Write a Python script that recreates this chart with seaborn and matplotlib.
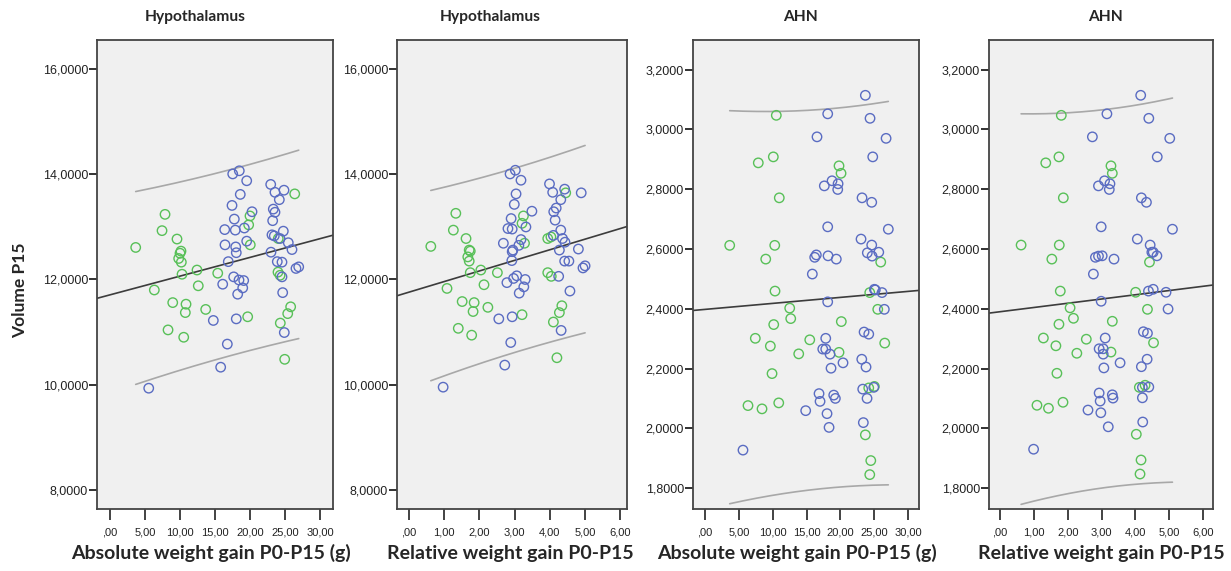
import numpy as np
import matplotlib
matplotlib.use('Agg')
import matplotlib.pyplot as plt
import seaborn as sns
from matplotlib import font_manager
from matplotlib.ticker import FuncFormatter

# ---------------- data ----------------
# Hypothalamus vs absolute weight gain
hyp_abs_green_x = [3.67, 7.86, 7.43, 9.57, 10.14, 10.0, 9.81, 10.19, 10.29, 12.43, 15.39, 20.0, 19.81, 20.04, 26.39, 24.04,
                   24.0, 24.3, 6.33, 8.96, 10.86, 10.76, 12.61, 13.67, 8.29, 10.53, 19.67, 25.81, 25.39, 24.33, 24.96]
hyp_abs_green_y = [12.61, 13.24, 12.93, 12.77, 12.54, 12.50, 12.40, 12.33, 12.10, 12.18, 12.12, 13.21, 13.04, 12.66, 13.63, 12.78,
                   12.14, 12.08, 11.80, 11.56, 11.53, 11.37, 11.88, 11.43, 11.04, 10.90, 11.29, 11.48, 11.35, 11.17, 10.48]
hyp_abs_blue_x = [17.53, 18.47, 19.53, 18.61, 17.43, 20.29, 17.76, 16.39, 17.9, 19.19, 19.53, 16.43, 17.96, 18.04, 16.9, 22.96,
                  23.57, 24.86, 24.19, 23.33, 23.57, 23.24, 24.76, 23.14, 23.47, 24.29, 25.47, 26.0, 23.0, 23.9, 24.57, 26.57,
                  26.96, 17.67, 18.43, 19.1, 16.1, 18.96, 18.24, 14.76, 18.04, 24.57, 24.67, 24.9, 16.76, 15.81, 5.53]
hyp_abs_blue_y = [14.01, 14.07, 13.88, 13.62, 13.41, 13.29, 13.15, 12.95, 12.94, 12.98, 12.73, 12.66, 12.62, 12.51, 12.34, 13.81,
                  13.66, 13.70, 13.52, 13.34, 13.28, 13.12, 12.92, 12.85, 12.83, 12.78, 12.70, 12.57, 12.52, 12.34, 12.33, 12.21,
                  12.24, 12.05, 11.99, 11.98, 11.91, 11.84, 11.72, 11.22, 11.25, 12.05, 11.75, 10.99, 10.77, 10.33, 9.93]

# Hypothalamus vs relative weight gain
hyp_rel_green_x = [0.62, 1.33, 1.26, 1.62, 1.71, 1.74, 1.67, 1.71, 1.74, 2.04, 2.51, 3.25, 3.21, 3.28, 3.94, 4.03,
                   4.45, 3.94, 4.04, 1.08, 1.51, 1.85, 1.82, 2.13, 2.24, 1.40, 1.78, 3.21, 4.34, 4.27, 4.10, 4.20]
hyp_rel_green_y = [12.63, 13.26, 12.94, 12.78, 12.56, 12.54, 12.43, 12.35, 12.13, 12.18, 12.13, 13.21, 13.07, 12.69, 12.78, 12.81,
                   13.65, 12.13, 12.06, 11.83, 11.58, 11.56, 11.39, 11.90, 11.47, 11.07, 10.94, 11.33, 11.50, 11.37, 11.19, 10.51]
hyp_rel_blue_x = [2.87, 3.02, 3.18, 3.04, 2.99, 3.49, 2.90, 2.81, 2.93, 3.32, 3.18, 2.68, 2.95, 2.93, 3.12, 2.92,
                  3.99, 4.08, 4.42, 4.89, 4.31, 4.18, 4.11, 4.15, 4.31, 4.10, 4.36, 4.43, 4.81, 4.27, 4.42, 4.54,
                  4.94, 5.00, 2.78, 2.97, 3.06, 3.30, 3.26, 3.13, 2.55, 2.93, 4.25, 4.57, 4.32, 2.89, 2.72, 0.97]
hyp_rel_blue_y = [14.01, 14.08, 13.89, 13.63, 13.43, 13.30, 13.16, 12.97, 12.96, 13.00, 12.76, 12.69, 12.56, 12.53, 12.65, 12.36,
                  13.82, 13.66, 13.72, 13.65, 13.52, 13.36, 13.29, 13.13, 12.94, 12.84, 12.78, 12.71, 12.58, 12.56, 12.35, 12.35,
                  12.22, 12.26, 11.94, 12.02, 12.07, 12.00, 11.86, 11.74, 11.25, 11.29, 12.06, 11.78, 11.03, 10.80, 10.37, 9.95]

# AHN vs absolute weight gain
ahn_abs_green_x = [10.53, 7.87, 10.09, 19.79, 20.09, 10.97, 3.65, 10.30, 8.97, 25.95, 10.34, 24.33, 12.51, 12.66, 10.15, 20.13,
                   25.51, 7.43, 9.65, 15.47, 13.84, 19.79, 26.54, 9.90, 6.35, 8.42, 10.89, 24.18, 25.01, 23.68, 24.48, 24.33]
ahn_abs_green_y = [3.047, 2.888, 2.908, 2.878, 2.853, 2.771, 2.612, 2.612, 2.566, 2.556, 2.459, 2.454, 2.402, 2.367, 2.347, 2.357,
                   2.398, 2.301, 2.275, 2.296, 2.249, 2.254, 2.285, 2.183, 2.076, 2.065, 2.085, 2.135, 2.140, 1.978, 1.892, 1.845]
ahn_abs_blue_x = [23.68, 18.12, 24.37, 16.54, 26.74, 24.77, 18.76, 17.62, 19.65, 19.60,
                  23.19, 24.62, 18.12, 27.07, 23.04, 24.62, 23.97, 25.66, 24.67, 16.44,
                  16.20, 18.17, 19.39, 15.85, 25.01, 25.15, 26.14, 18.12, 26.48, 23.49,
                  24.18, 17.83, 17.39, 17.83, 18.46, 20.38, 23.15, 23.78, 18.61, 23.29,
                  24.92, 23.93, 16.84, 16.99, 19.01, 19.25, 14.87, 18.02, 18.32, 23.38, 5.61]
ahn_abs_blue_y = [3.114, 3.052, 3.037, 2.975, 2.970, 2.908, 2.828, 2.811, 2.818, 2.799,
                  2.771, 2.756, 2.674, 2.666, 2.633, 2.613, 2.587, 2.589, 2.576, 2.580,
                  2.572, 2.577, 2.566, 2.516, 2.465, 2.463, 2.454, 2.423, 2.398, 2.322,
                  2.315, 2.301, 2.265, 2.265, 2.248, 2.219, 2.231, 2.205, 2.201, 2.131,
                  2.137, 2.100, 2.116, 2.090, 2.111, 2.100, 2.059, 2.049, 2.003, 2.019, 1.927]

# AHN vs relative weight gain
ahn_rel_green_x = [1.81, 1.35, 1.74, 3.28, 3.32, 1.87, 0.62, 1.75, 1.53, 4.42, 1.78, 4.01, 2.07, 2.17, 1.74, 3.32,
                   4.36, 1.28, 1.65, 2.55, 2.27, 3.28, 4.54, 1.68, 1.09, 1.43, 1.86, 4.12, 4.29, 4.03, 4.17, 4.14]
ahn_rel_green_y = [3.047, 2.888, 2.908, 2.878, 2.853, 2.771, 2.613, 2.613, 2.566, 2.556, 2.459, 2.455, 2.403, 2.368, 2.348, 2.358,
                   2.398, 2.302, 2.276, 2.298, 2.251, 2.255, 2.286, 2.184, 2.077, 2.067, 2.087, 2.137, 2.144, 1.980, 1.894, 1.847]
ahn_rel_blue_x = [4.16, 3.16, 4.40, 2.73, 5.02, 4.65, 3.09, 2.91, 3.25, 3.23,
                  4.18, 4.33, 2.99, 5.10, 4.06, 4.44, 4.49, 4.53, 4.64, 2.82,
                  2.91, 3.02, 3.37, 2.76, 4.39, 4.53, 4.91, 2.99, 4.97, 4.24,
                  4.36, 3.11, 2.93, 3.05, 3.05, 3.55, 4.35, 4.18, 3.07, 4.21,
                  4.40, 4.21, 2.93, 2.96, 3.32, 3.34, 2.60, 2.98, 3.20, 4.22, 0.99]
ahn_rel_blue_y = [3.114, 3.052, 3.037, 2.975, 2.970, 2.908, 2.828, 2.811, 2.818, 2.799,
                  2.771, 2.756, 2.674, 2.666, 2.633, 2.613, 2.589, 2.589, 2.577, 2.572,
                  2.576, 2.577, 2.566, 2.516, 2.459, 2.465, 2.455, 2.425, 2.399, 2.323,
                  2.318, 2.302, 2.266, 2.266, 2.248, 2.219, 2.231, 2.206, 2.202, 2.137,
                  2.138, 2.102, 2.118, 2.091, 2.112, 2.101, 2.061, 2.052, 2.005, 2.021, 1.930]

titles = ['Hypothalamus', 'Hypothalamus', 'AHN', 'AHN']
xlabels = ['Absolute weight gain P0-P15 (g)', 'Relative weight gain P0-P15',
           'Absolute weight gain P0-P15 (g)', 'Relative weight gain P0-P15']
ylabel = 'Volume P15'
abs_xticks = [0, 5, 10, 15, 20, 25, 30]
rel_xticks = [0, 1, 2, 3, 4, 5, 6]
hyp_yticks = [8, 10, 12, 14, 16]
ahn_yticks = [1.8, 2.0, 2.2, 2.4, 2.6, 2.8, 3.0, 3.2]

# ---------------- style ----------------
sns.set_style('white')
avail = {f.name for f in font_manager.fontManager.ttflist}
if 'Liberation Sans Narrow' in avail:
    TXT = 'Liberation Sans Narrow'
elif 'Lato' in avail:
    TXT = 'Lato'
else:
    TXT = 'Liberation Sans'
plt.rcParams['font.family'] = ['Liberation Sans', 'DejaVu Sans']

BLUE = '#5a6cc2'
GREEN = '#58c058'
LINE = '#3c3c3c'
PI = '#a8a8a8'
FACE = '#f0f0f0'

W, H = 1231, 571
fig = plt.figure(figsize=(W / 100, H / 100), dpi=100)


def t975(df):
    z = 1.959964
    g1 = (z ** 3 + z) / 4
    g2 = (5 * z ** 5 + 16 * z ** 3 + 3 * z) / 96
    return z + g1 / df + g2 / df ** 2


def xfmt(v, pos):
    if abs(v) < 1e-9:
        return ',00'
    return f'{v:.2f}'.replace('.', ',')


def yfmt(v, pos):
    return f'{v:.4f}'.replace('.', ',')


# axes boxes in pixels: left, right
boxes = [(97, 333), (397, 627), (693, 919), (989, 1213)]
top_px, bot_px = 40, 509
xlims = [(-1.86, 31.86), (-0.34, 6.19), (-1.77, 31.6), (-0.33, 6.30)]
ylims = [(7.63, 16.56), (7.63, 16.56), (1.730, 3.299), (1.730, 3.299)]
datasets = [
    (hyp_abs_blue_x, hyp_abs_blue_y, hyp_abs_green_x, hyp_abs_green_y, abs_xticks, hyp_yticks),
    (hyp_rel_blue_x, hyp_rel_blue_y, hyp_rel_green_x, hyp_rel_green_y, rel_xticks, hyp_yticks),
    (ahn_abs_blue_x, ahn_abs_blue_y, ahn_abs_green_x, ahn_abs_green_y, abs_xticks, ahn_yticks),
    (ahn_rel_blue_x, ahn_rel_blue_y, ahn_rel_green_x, ahn_rel_green_y, rel_xticks, ahn_yticks),
]
title_x = [195, 490, 800, 1105]
xlabel_x = [211, 510, 797, 1101]

for i, (bx, by, gx, gy, xt, yt) in enumerate(datasets):
    l, r = boxes[i]
    ax = fig.add_axes([l / W, (H - bot_px) / H, (r - l) / W, (bot_px - top_px) / H])
    ax.set_facecolor(FACE)
    ax.set_xlim(*xlims[i])
    ax.set_ylim(*ylims[i])

    allx = np.array(bx + gx, dtype=float)
    ally = np.array(by + gy, dtype=float)

    # regression line (fit line across the whole axis)
    sns.regplot(x=allx, y=ally, ax=ax, scatter=False, ci=None, truncate=False,
                line_kws=dict(color=LINE, lw=1.2, zorder=2))

    # 95% prediction interval for individual values
    n = len(allx)
    slope, intercept = np.polyfit(allx, ally, 1)
    resid = ally - (intercept + slope * allx)
    s = np.sqrt(np.sum(resid ** 2) / (n - 2))
    xm = allx.mean()
    sxx = np.sum((allx - xm) ** 2)
    grid = np.linspace(allx.min(), allx.max(), 200)
    yhat = intercept + slope * grid
    half = t975(n - 2) * s * np.sqrt(1 + 1 / n + (grid - xm) ** 2 / sxx)
    sns.lineplot(x=grid, y=yhat + half, ax=ax, color=PI, lw=1.2, zorder=2)
    sns.lineplot(x=grid, y=yhat - half, ax=ax, color=PI, lw=1.2, zorder=2)

    sns.scatterplot(x=gx, y=gy, ax=ax, s=46, color=GREEN, facecolor='none',
                    edgecolor=GREEN, linewidth=1.0, zorder=3)
    sns.scatterplot(x=bx, y=by, ax=ax, s=46, color=BLUE, facecolor='none',
                    edgecolor=BLUE, linewidth=1.0, zorder=3)

    ax.set_xlim(*xlims[i])
    ax.set_ylim(*ylims[i])
    ax.set_xticks(xt)
    ax.set_yticks(yt)
    ax.xaxis.set_major_formatter(FuncFormatter(xfmt))
    ax.yaxis.set_major_formatter(FuncFormatter(yfmt))
    ax.tick_params(axis='y', direction='out', length=5.5, width=1.3, color='#222222',
                   labelsize=9, labelcolor='#222222', pad=1, left=True)
    ax.tick_params(axis='x', direction='out', length=8, width=1.2, color='#222222',
                   labelsize=8, labelcolor='#222222', pad=5, bottom=True)
    for sp in ax.spines.values():
        sp.set_visible(True)
        sp.set_color('#444444')
        sp.set_linewidth(1.3)
    ax.set_xlabel('')
    ax.set_ylabel('')

    fig.text(title_x[i] / W, 1 - 17 / H, titles[i], ha='center', va='center',
             fontweight='bold', fontsize=11.2, family=[TXT, 'DejaVu Sans'])
    fig.text(xlabel_x[i] / W, 1 - 553 / H, xlabels[i], ha='center', va='center',
             fontweight='bold', fontsize=14, family=[TXT, 'DejaVu Sans'])

fig.text(20 / W, 1 - 290 / H, ylabel, rotation=90, ha='center', va='center',
         fontweight='bold', fontsize=12.5, family=[TXT, 'DejaVu Sans'])

fig.savefig('out.png', dpi=100, facecolor='white')
